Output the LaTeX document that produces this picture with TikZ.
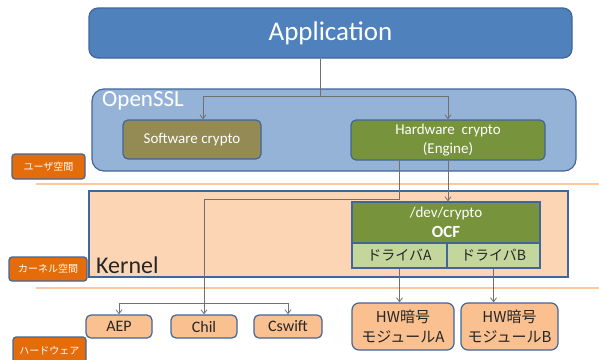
\documentclass[tikz,border=0pt]{standalone}
\usepackage{fontspec}
\setmainfont{Carlito}
\newfontfamily\jp{Noto Sans CJK JP}
\usetikzlibrary{arrows.meta}
\definecolor{appblue}{HTML}{4F81BD}
\definecolor{edgeblue}{HTML}{41669A}
\definecolor{sslblue}{HTML}{95B3D7}
\definecolor{swolive}{HTML}{948A54}
\definecolor{hwgreen}{HTML}{77933C}
\definecolor{drvgreen}{HTML}{C3D69B}
\definecolor{kernpeach}{HTML}{FCD5B5}
\definecolor{hwpeach}{HTML}{FAC090}
\definecolor{tagorange}{HTML}{E46C0A}
\definecolor{sepline}{HTML}{FAC8A0}
\definecolor{conngray}{HTML}{707070}
\definecolor{ink}{HTML}{262626}
\newcommand{\fs}[1]{\fontsize{#1}{#1}\selectfont}
\begin{document}
\begin{tikzpicture}[x=1pt,y=-1pt,
    box/.style={draw=edgeblue, line width=1.2pt, inner sep=0pt, align=center},
    tag/.style={box, fill=tagorange, text=white, rounded corners=3pt, font=\jp\fs{10}},
    dev/.style={box, fill=hwpeach, text=ink, rounded corners=5pt},
    conn/.style={draw=conngray, line width=0.8pt},
    tip/.style={-{Straight Barb[length=4pt,width=6pt]}},
    sep/.style={draw=sepline, line width=1.5pt}]
  \useasboundingbox (0,0) rectangle (599,359);
  % user space
  \node[box, fill=appblue, text=white, rounded corners=9pt, minimum width=483pt, minimum height=50pt, font=\fs{27}] (app) at (330.5,33) {Application};
  \node[box, fill=sslblue, rounded corners=12pt, minimum width=484pt, minimum height=82pt] (ssl) at (334,130) {};
  \node[anchor=west, text=white, inner sep=0pt, font=\fs{23}] (ssllabel) at (102,101) {OpenSSL};
  \node[box, fill=swolive, text=white, rounded corners=5pt, minimum width=138pt, minimum height=39pt, font=\fs{15}] (sw) at (192,139.5) {Software crypto};
  \node[box, fill=hwgreen, text=white, rounded corners=5pt, minimum width=194pt, minimum height=40pt, font=\fontsize{15}{19}\selectfont] (hw) at (448,140) {Hardware\ \ crypto\\(Engine)};
  \node[tag, minimum width=73pt, minimum height=25pt] (usertag) at (48.5,166.5) {ユーザ空間};
  \draw[sep] (36,184) -- (599,184);
  % kernel space
  \node[box, fill=kernpeach, minimum width=479pt, minimum height=86pt] (kernel) at (328.5,234) {};
  \node[anchor=base west, text=ink, inner sep=0pt, font=\fs{24}] (kernlabel) at (96,273) {Kernel};
  \node[box, fill=hwgreen, text=white, minimum width=188pt, minimum height=41pt, font=\fontsize{15}{20}\selectfont] (ocf) at (446,222.5) {/dev/crypto\\\textbf{\fs{17}OCF}};
  \node[box, fill=drvgreen, text=ink, minimum width=95pt, minimum height=25pt, font=\jp\fs{14}] (drva) at (399.5,255.5) {ドライバA};
  \node[box, fill=drvgreen, text=ink, minimum width=93pt, minimum height=25pt, font=\jp\fs{14}] (drvb) at (493.5,255.5) {ドライバB};
  \node[tag, minimum width=78pt, minimum height=24pt] (kerntag) at (48,269) {カーネル空間};
  \draw[sep] (36,288) -- (599,288);
  % hardware
  \node[dev, minimum width=66pt, minimum height=23pt, font=\fs{16}] (aep) at (119,326.5) {AEP};
  \node[dev, minimum width=66pt, minimum height=23pt, font=\fs{16}] (chil) at (204,326.5) {Chil};
  \node[dev, minimum width=68pt, minimum height=23pt, font=\fs{16}] (cswift) at (288,326.5) {Cswift};
  \node[dev, rounded corners=7pt, minimum width=102pt, minimum height=47pt, font=\jp\fontsize{15}{20}\selectfont] (hwa) at (403,326.5) {HW暗号\\モジュールA};
  \node[dev, rounded corners=7pt, minimum width=97pt, minimum height=47pt, font=\jp\fontsize{15}{20}\selectfont] (hwb) at (509.5,326.5) {HW暗号\\モジュールB};
  \node[tag, minimum width=73pt, minimum height=28pt] (hwtag) at (49.5,351) {ハードウェア};
  % connectors
  \coordinate (appsplit) at (320,96);
  \coordinate (kernturn) at (204,199);
  \coordinate (chilsplit) at (204,303);
  \draw[conn] (app.south -| appsplit) -- (appsplit);
  \draw[conn, tip] (appsplit) -| ([xshift=11pt]sw.north);
  \draw[conn, tip] (appsplit) -| (hw.north);
  \draw[conn, tip] (hw.south -| drva.south) -- (kernturn -| drva.south) -- (kernturn) -- (chil.north);
  \draw[conn, tip] (hw.south) -- (hw.south |- ocf.north);
  \draw[conn, tip] (chilsplit) -| (aep.north);
  \draw[conn, tip] (chilsplit) -| (cswift.north);
  \draw[conn, tip] (drva.south) -- (drva.south |- hwa.north);
  \draw[conn, tip] (drvb.south) -- (drvb.south |- hwb.north);
\end{tikzpicture}
\end{document}
